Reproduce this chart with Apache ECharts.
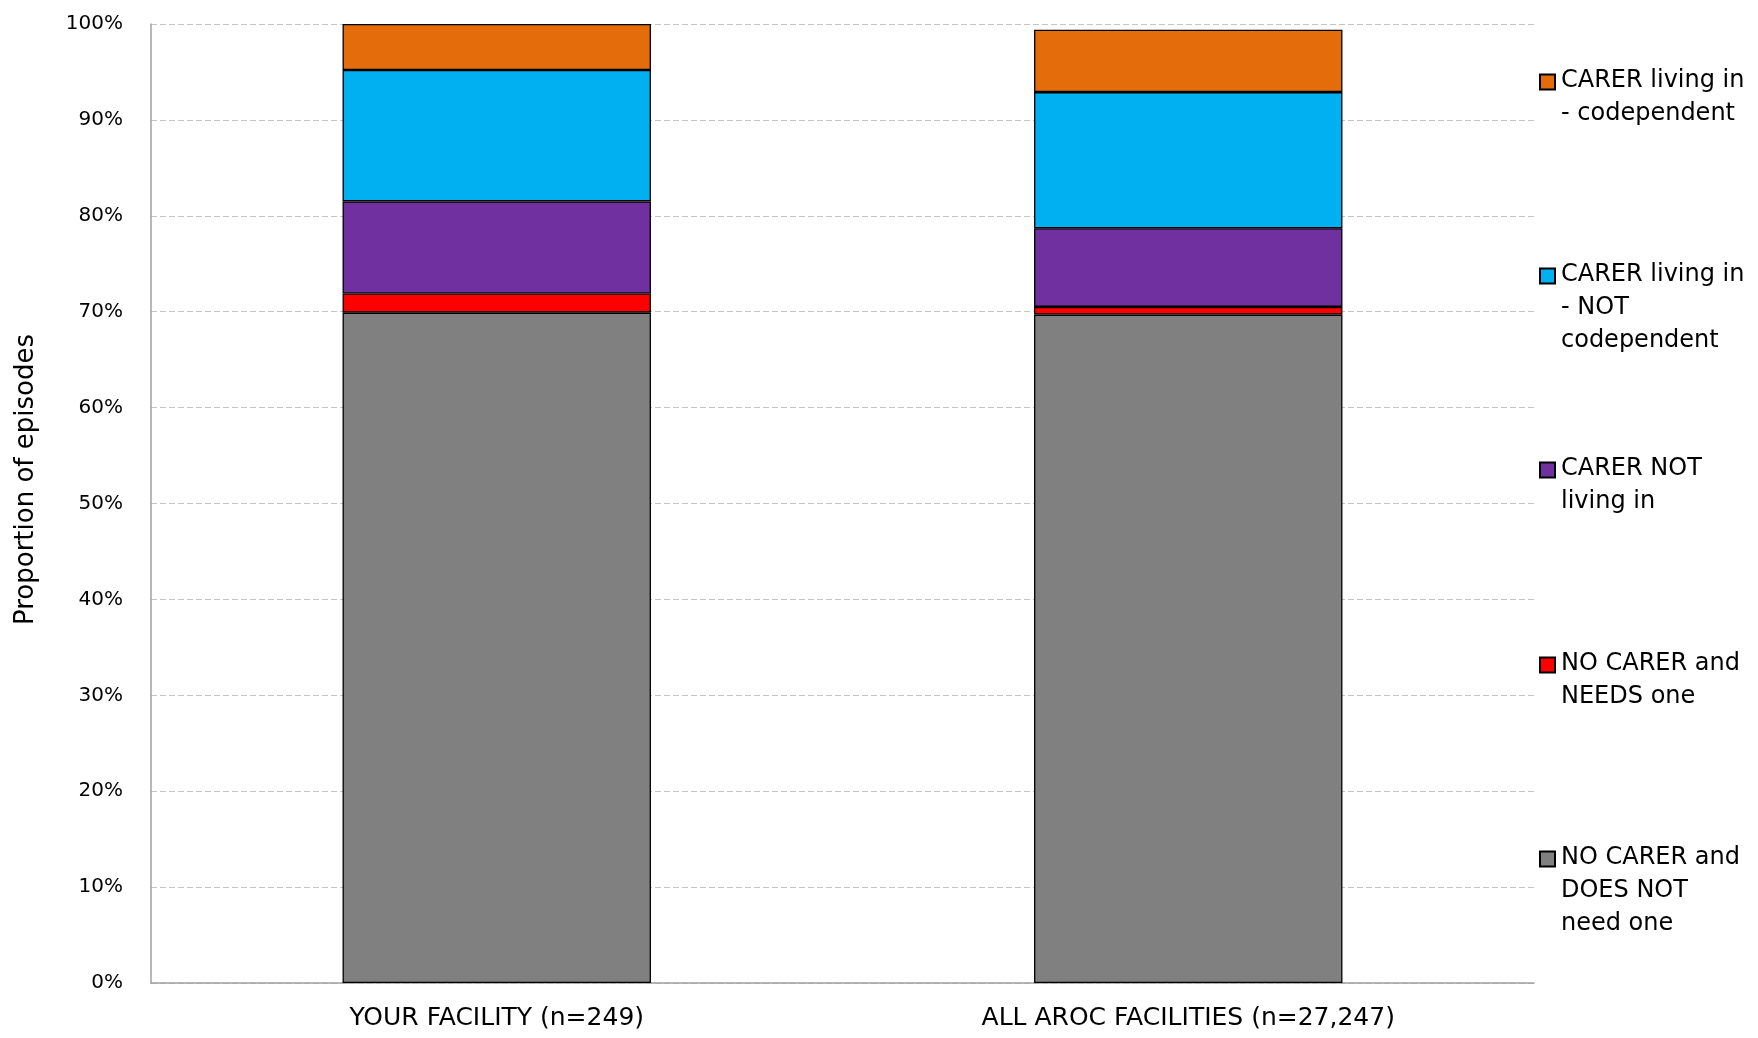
<!DOCTYPE html>
<html>
<head>
<meta charset="utf-8">
<script src="https://cdn.jsdelivr.net/npm/echarts@6/dist/echarts.min.js"></script>
<style>
html,body{margin:0;padding:0;background:#fff;}
#chart{width:1758px;height:1038px;}
</style>
</head>
<body>
<div id="chart"></div>
<script>
// ---- data (percent of episodes) ----
const categories = ['YOUR FACILITY (n=249)', 'ALL AROC FACILITIES (n=27,247)'];
const noCarerNotNeed   = [69.9, 69.7];
const noCarerNeeds     = [2.0, 0.8];
const carerNotLivingIn = [9.6, 8.2];
const carerLivingNotCo = [13.7, 14.2];
const carerLivingCo    = [4.8, 6.5];
const yTicks = [0, 10, 20, 30, 40, 50, 60, 70, 80, 90, 100];

const seriesNames = [
  'NO CARER and DOES NOT need one',
  'NO CARER and NEEDS one',
  'CARER NOT living in',
  'CARER living in - NOT codependent',
  'CARER living in - codependent'
];
const legendText = {
  'CARER living in - codependent': 'CARER living in\n- codependent',
  'CARER living in - NOT codependent': 'CARER living in\n- NOT\ncodependent',
  'CARER NOT living in': 'CARER NOT\nliving in',
  'NO CARER and NEEDS one': 'NO CARER and\nNEEDS one',
  'NO CARER and DOES NOT need one': 'NO CARER and\nDOES NOT\nneed one'
};
const seriesData = [noCarerNotNeed, noCarerNeeds, carerNotLivingIn, carerLivingNotCo, carerLivingCo];
const colors = ['#808080', '#FF0000', '#7030A0', '#00B0F0', '#E46C0A'];

const FONT = 'DejaVu Sans';
const LH = 33;
// legend order top to bottom and first-line centre (px)
const legendOrder = [4, 3, 2, 1, 0];
const legendCenters = [81, 275, 469, 664, 858];

const legends = [];
legendOrder.forEach((si, k) => {
  const name = seriesNames[si];
  // icon-only legend
  legends.push({
    orient: 'vertical', left: 1539, top: legendCenters[k] - 7.5, padding: 0,
    itemWidth: 15, itemHeight: 15, selectedMode: false,
    data: [{name: name, icon: 'rect'}],
    formatter: () => '',
    textStyle: {fontSize: 1, lineHeight: 1}
  });
  // text-only legend
  legends.push({
    orient: 'vertical', left: 1541, top: legendCenters[k] - LH / 2, padding: 0,
    itemWidth: 15, itemHeight: 15, itemGap: 0, selectedMode: false,
    data: [{name: name, icon: 'none'}],
    formatter: (n) => legendText[n],
    textStyle: {fontFamily: FONT, fontSize: 24, lineHeight: LH, color: '#000'}
  });
});

const chart = echarts.init(document.getElementById('chart'), null, {renderer: 'canvas'});
chart.setOption({
  animation: false,
  backgroundColor: '#fff',
  color: colors,
  legend: legends,
  grid: {left: 151, right: 224, top: 24, bottom: 55, containLabel: false},
  xAxis: {
    type: 'category',
    data: categories,
    axisLine: {show: true, lineStyle: {color: '#a0a0a0', width: 1.5}},
    axisTick: {show: false},
    axisLabel: {fontFamily: FONT, fontSize: 25, color: '#000', margin: 23}
  },
  yAxis: {
    type: 'value',
    min: 0, max: 100, interval: 10,
    name: 'Proportion of episodes',
    nameLocation: 'middle',
    nameGap: 112,
    nameTextStyle: {fontFamily: FONT, fontSize: 26, color: '#000', padding: [0, 0, 0, 48]},
    axisLine: {show: true, lineStyle: {color: '#a0a0a0', width: 1.5}},
    axisTick: {show: false},
    axisLabel: {
      fontFamily: FONT, fontSize: 20, color: '#000', margin: 28,
      formatter: (v) => yTicks.indexOf(v) >= 0 ? v + '%' : ''
    },
    splitLine: {show: true, lineStyle: {color: '#c4c4c4', width: 1, type: [6, 3]}}
  },
  series: seriesNames.map((n, i) => ({
    name: n,
    type: 'bar',
    stack: 'total',
    barWidth: '44.6%',
    data: seriesData[i],
    itemStyle: {color: colors[i], borderColor: '#000', borderWidth: 1.3}
  }))
});
</script>
</body>
</html>
